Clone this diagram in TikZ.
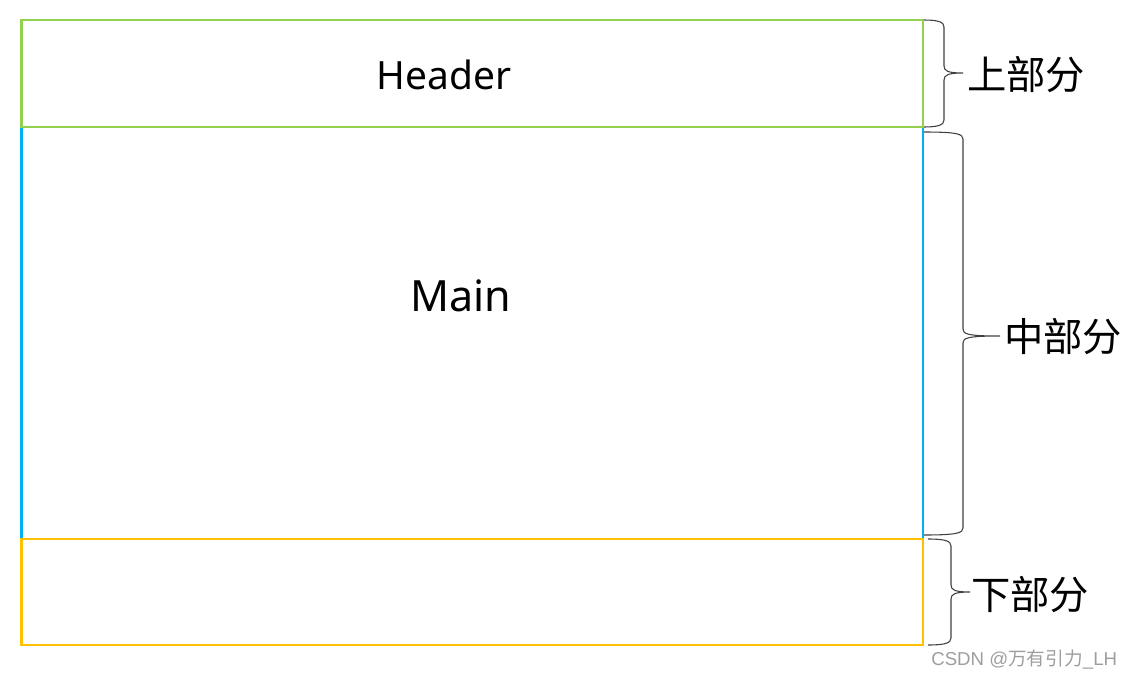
\documentclass[tikz,border=0pt]{standalone}
\usepackage{fontspec}
\setmainfont{Noto Sans}
\newfontfamily\cjk{Noto Sans CJK SC}
\newfontfamily\wmfont{Liberation Sans}
\definecolor{hgreen}{HTML}{92D050}
\definecolor{mblue}{HTML}{00B0F0}
\definecolor{fyellow}{HTML}{FFC000}
\definecolor{bracegray}{HTML}{404040}
% #1 x start, #2 x of vertical, #3 x tip, #4 y top, #5 y tip, #6 y bottom
\newcommand{\wbrace}[6]{%
  \draw[bracestyle] (#1,#4) .. controls (#2-6,#4) and (#2,#4+2) .. (#2,#4+7)
    -- (#2,#5-7) .. controls (#2,#5-2) and (#2+4,#5) .. (#3,#5)
    .. controls (#2+4,#5) and (#2,#5+2) .. (#2,#5+7)
    -- (#2,#6-7) .. controls (#2,#6-2) and (#2-6,#6) .. (#1,#6);}
\begin{document}
\begin{tikzpicture}[x=0.75pt,y=-0.75pt,
  boxline/.style={line width=1.9pt},
  bracestyle/.style={draw=bracegray,line width=0.8pt},
  bigtext/.style={inner sep=0pt,font=\fontsize{29.2}{33}\selectfont},
  sidetext/.style={inner sep=0pt,anchor=west,font=\cjk\fontsize{29.5}{33}\selectfont}]
\useasboundingbox (0,0) rectangle (1130,678);
% boxes
\draw[boxline,draw=mblue] (21.5,127) rectangle (923,539);
\draw[boxline,draw=hgreen] (21.5,20) rectangle (923,127);
\draw[boxline,draw=fyellow] (21.5,539) rectangle (923,645);
% texts in boxes
\node[bigtext] (header) at (444,75) {Header};
\node[bigtext,font=\fontsize{32.3}{37}\selectfont] (main) at (461,296) {Main};
% braces
\wbrace{924}{944}{963}{20}{73}{127}
\wbrace{924}{963}{1000}{132}{336}{535}
\wbrace{928}{951}{970}{539}{592}{645}
% labels
\node[sidetext] (top) at (967,75) {上部分};
\node[sidetext] (mid) at (1004,337) {中部分};
\node[sidetext] (bot) at (971,595) {下部分};
\node[inner sep=0pt,anchor=west,text=black!38,font=\wmfont\fontsize{14}{16}\selectfont] (wm) at (931,660) {CSDN @{\cjk 万有引力}\_LH};
\end{tikzpicture}
\end{document}
